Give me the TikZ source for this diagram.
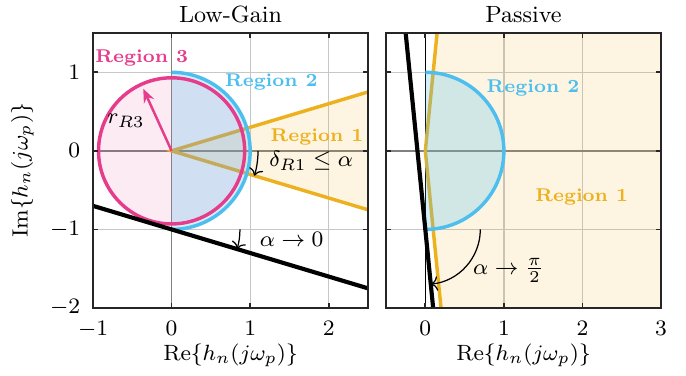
\documentclass[tikz,border=0pt]{standalone}
\usepackage{amsmath}
\usetikzlibrary{arrows.meta}
\definecolor{colUno}{RGB}{237,177,32}
\definecolor{colDos}{RGB}{77,190,238}
\definecolor{colTres}{RGB}{230,60,140}
\tikzset{
  rejilla/.style={black!22, line width=0.45pt},
  ejecero/.style={black!50, line width=0.6pt},
  borde/.style={black!85, line width=0.6pt},
  grueso/.style={line width=1.25pt},
  recta/.style={black, line width=1.5pt},
  etiq/.style={font=\fontsize{6.7}{8}\selectfont\bfseries},
  flecha/.style={-{To[length=2.5pt]}, black, line width=0.45pt},
}
\begin{document}
\begin{tikzpicture}[font=\fontsize{8.5}{10}\selectfont]
    \useasboundingbox (-2.184,-2.853) rectangle (6.547,1.92);

    % Izquierda: Low-Gain
    \begin{scope}
    \begin{scope}
        \clip (-1,-2) rectangle (2.5,1.5);
        % Rejilla
        \foreach \x in {1,2} \draw[rejilla] (\x,-2) -- (\x,1.5);
        \foreach \y in {-1,1} \draw[rejilla] (-1,\y) -- (2.5,\y);
        \draw[ejecero] (0,-2) -- (0,1.5);
        \draw[ejecero] (-1,0) -- (2.5,0);
        % Region 1 (cono)
        \fill[colUno, opacity=0.13] (0,0) -- (2.6,0.78) -- (2.6,-0.78) -- cycle;
        \draw[colUno, grueso] (2.6,0.78) -- (0,0) -- (2.6,-0.78);
        % Region 3 (circulo)
        \fill[colTres, opacity=0.1] (0,0) circle (0.93);
        % Region 2 (semicirculo)
        \fill[colDos, opacity=0.25] (0,1) arc (90:-90:1) -- cycle;
        \draw[colTres, grueso] (0,0) circle (0.93);
        \draw[colDos, grueso] (0,1) arc (90:-90:1);
        % Recta limite
        \draw[recta] (-1.1,-0.67) -- (2.6,-1.78);
    \end{scope}

    % Radio y angulos
    \coordinate (o1) at (0,0);
    \coordinate (r1) at (114.5:0.87);
    \draw[colTres, line width=0.9pt, -{Stealth[length=5pt,width=4pt]}] (o1) -- (r1);
    \node (rtres) at (-0.58,0.38) {$r_{R3}$};
    \coordinate (d1) at (1.1,0);
    \draw[flecha] (d1) arc (0:-16.7:1.1);
    \node (delta) [right] at (1.12,-0.13) {$\delta_{R1} \leq \alpha$};
    \coordinate (a1) at (0.87,-1);
    \draw[flecha] (a1) arc (0:-16.7:0.87);
    \node (alfa1) [right] at (1.0,-1.13) {$\alpha \rightarrow 0$};

    % Etiquetas de regiones
    \node[etiq, text=colTres] (reg3) at (-0.38,1.18) {Region 3};
    \node[etiq, text=colDos] (reg2) at (1.27,0.88) {Region 2};
    \node[etiq, text=colUno] (reg1) at (1.85,0.18) {Region 1};

    % Marco y ejes
    \draw[borde] (-1,-2) rectangle (2.5,1.5);
    \foreach \x in {-1,0,1,2} {
        \draw[borde] (\x,-2) -- (\x,-1.94);
        \draw[borde] (\x,1.5) -- (\x,1.44);
        \node[anchor=north] at (\x,-2.04) {$\x$};
    }
    \foreach \y in {-2,-1,0,1} {
        \draw[borde] (-1,\y) -- (-0.94,\y);
        \draw[borde] (2.5,\y) -- (2.44,\y);
        \node[anchor=east] at (-1.04,\y) {$\y$};
    }
    \node (tit1) at (0.75,1.74) {Low-Gain};
    \node (xlab1) at (0.75,-2.6) {$\mathrm{Re}\{h_n(j\omega_p)\}$};
    \node[rotate=90] (ylab) at (-1.9,-0.25) {$\mathrm{Im}\{h_n(j\omega_p)\}$};
    \end{scope}

    % Derecha: Passive
    \begin{scope}[xshift=3.229cm]
    \begin{scope}
        \clip (-0.5,-2) rectangle (3,1.5);
        % Rejilla
        \foreach \x in {1,2} \draw[rejilla] (\x,-2) -- (\x,1.5);
        \foreach \y in {-1,1} \draw[rejilla] (-0.5,\y) -- (3,\y);
        \draw[ejecero] (-0.5,0) -- (3,0);
        \draw[black, line width=0.5pt] (0,-2) -- (0,1.5);
        % Region 1 (cono casi abierto)
        \fill[colUno, opacity=0.13] (0,0) -- (0.16,1.6) -- (3.1,1.6) -- (3.1,-2.1) -- (0.21,-2.1) -- cycle;
        \draw[colUno, grueso] (0.16,1.6) -- (0,0) -- (0.21,-2.1);
        % Region 2 (semicirculo)
        \fill[colDos, opacity=0.25] (0,1) arc (90:-90:1) -- cycle;
        \draw[colDos, grueso] (0,1) arc (90:-90:1);
        % Recta limite
        \draw[recta] (-0.26,1.6) -- (0.11,-2.1);
    \end{scope}

    % Angulo
    \coordinate (a2) at (0.7,-1);
    \draw[flecha] (a2) arc (0:-84.3:0.7);
    \node (alfa2) at (1.06,-1.52) {$\alpha \rightarrow \frac{\pi}{2}$};

    % Etiquetas de regiones
    \node[etiq, text=colDos] (reg2b) at (1.37,0.8) {Region 2};
    \node[etiq, text=colUno] (reg1b) at (1.99,-0.59) {Region 1};

    % Marco y ejes
    \draw[borde] (-0.5,-2) rectangle (3,1.5);
    \foreach \x in {0,1,2,3} {
        \draw[borde] (\x,-2) -- (\x,-1.94);
        \draw[borde] (\x,1.5) -- (\x,1.44);
        \node[anchor=north] at (\x,-2.04) {$\x$};
    }
    \foreach \y in {-2,-1,0,1} {
        \draw[borde] (-0.5,\y) -- (-0.44,\y);
        \draw[borde] (3,\y) -- (2.94,\y);
    }
    \node (tit2) at (1.25,1.74) {Passive};
    \node (xlab2) at (1.25,-2.6) {$\mathrm{Re}\{h_n(j\omega_p)\}$};
    \end{scope}
\end{tikzpicture}
\end{document}
